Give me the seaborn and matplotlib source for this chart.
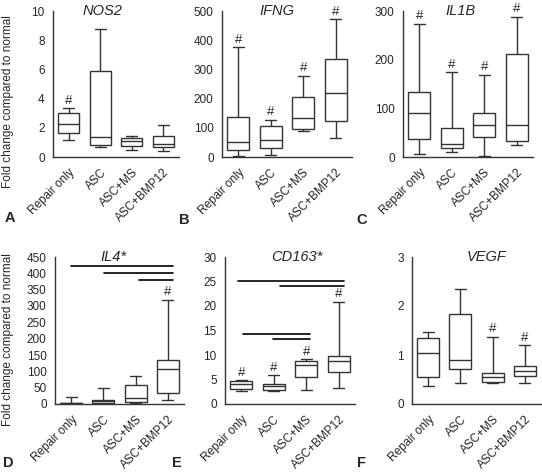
import matplotlib
matplotlib.use("Agg")
import matplotlib.pyplot as plt
import seaborn as sns
import pandas as pd

groups = ["Repair only", "ASC", "ASC+MS", "ASC+BMP12"]

# five-number summaries per group: [min, q1, median, q3, max]
nos2 = [[1.17, 1.63, 2.25, 2.99, 3.36], [0.69, 0.83, 1.40, 5.86, 8.76],
        [0.48, 0.74, 1.10, 1.33, 1.45], [0.44, 0.69, 0.87, 1.45, 2.18]]
ifng = [[3, 25, 51, 137, 377], [8, 31, 57, 106, 128],
        [88, 97, 133, 204, 279], [65, 122, 220, 336, 471]]
il1b = [[7, 37, 91, 134, 274], [10, 18, 27, 60, 174],
        [3, 42, 66, 91, 169], [25, 32, 66, 212, 288]]
il4 = [[0, 1, 2, 4, 20], [1, 4, 8, 13, 49],
       [2, 5, 19, 58, 86], [13, 34, 107, 136, 319]]
cd163 = [[2.6, 3.1, 4.1, 4.6, 4.8], [2.6, 2.9, 3.75, 4.1, 5.9],
         [2.9, 5.5, 8.0, 8.7, 9.1], [3.3, 6.5, 8.7, 9.7, 20.9]]
vegf = [[0.36, 0.55, 1.05, 1.35, 1.47], [0.43, 0.72, 0.90, 1.83, 2.34],
        [0.42, 0.45, 0.55, 0.64, 1.37], [0.42, 0.58, 0.67, 0.77, 1.20]]

titles = ["NOS2", "IFNG", "IL1B", "IL4*", "CD163*", "VEGF"]
letters = ["A", "B", "C", "D", "E", "F"]
hash_marks = [[1, 0, 0, 0], [1, 1, 1, 1], [1, 1, 1, 1],
              [0, 0, 0, 1], [1, 1, 1, 1], [0, 0, 1, 1]]
y_max = [10, 500, 300, 450, 30, 3]
y_step = [2, 100, 100, 50, 5, 1]
# significance bars: (start, end, height)
il4_bars = [(-0.01, 3.15, 422), (1.02, 3.15, 401), (2.1, 3.15, 380)]
cd163_bars = [(-0.1, 3.16, 25.1), (1.19, 3.16, 24.1), (0.045, 2.12, 14.2), (0.97, 2.12, 13.2)]

datasets = [nos2, ifng, il1b, il4, cd163, vegf]
bars = [[], [], [], il4_bars, cd163_bars, []]

sns.set_style("white")
plt.rcParams['font.family'] = ['Liberation Sans', 'DejaVu Sans']

W, H = 542, 472
fig = plt.figure(figsize=(W / 100, H / 100), dpi=100)

# axes boxes in pixels: left, right, top, bottom
boxes = [(53, 179, 11, 157), (222, 352, 11, 157), (403, 533, 11, 157),
         (55, 184, 257, 404), (225, 355, 257, 404), (412, 541, 257, 404)]
title_x = [0.39, 0.42, 0.44, 0.45, 0.55, 0.58]
letter_pos = [(5, 218), (179, 220), (356, 220), (3, 463), (172, 463), (357, 463)]
dark = "#333333"
fs = 8.5

for i in range(6):
    l, r, t, b = boxes[i]
    ax = fig.add_axes([l / W, 1 - b / H, (r - l) / W, (b - t) / H])
    rows = []
    for g, vals in zip(groups, datasets[i]):
        for v in vals:
            rows.append({"group": g, "value": v})
    df = pd.DataFrame(rows)
    sns.boxplot(data=df, x="group", y="value", order=groups, whis=(0, 100),
                color="white", linecolor=dark, linewidth=1.0, width=0.68,
                showfliers=False, ax=ax)
    ax.set_xlim(-0.5, 3.5)
    ax.set_ylim(0, y_max[i])
    yt = [k * y_step[i] for k in range(int(round(y_max[i] / y_step[i])) + 1)]
    ax.set_yticks(yt)
    ax.set_yticklabels([str(v) for v in yt], fontsize=fs)
    ax.set_xticks(range(4))
    ax.set_xticklabels(groups, fontsize=fs, rotation=45, ha="right",
                       rotation_mode="anchor")
    ax.set_xticks([-0.5, 0.5, 1.5, 2.5, 3.5], minor=True)
    ax.tick_params(axis="x", which="major", length=0, pad=7)
    ax.tick_params(axis="x", which="minor", length=4, width=1.0, color=dark, direction="out")
    ax.tick_params(axis="y", length=4, width=1.0, color=dark, direction="out", pad=2)
    ax.set_xlabel("")
    ax.set_ylabel("")
    for s in ["top", "right"]:
        ax.spines[s].set_visible(False)
    for s in ["left", "bottom"]:
        ax.spines[s].set_color(dark)
        ax.spines[s].set_linewidth(1.0)
    ax.text(title_x[i], 1.0, titles[i], transform=ax.transAxes, ha="center",
            va="center", fontsize=10.5, style="italic")
    for j, flag in enumerate(hash_marks[i]):
        if flag:
            ax.annotate("#", (j, datasets[i][j][4]), xytext=(0, 1),
                        textcoords="offset points", ha="center", va="bottom",
                        fontsize=9.5)
    for (x0, x1, yv) in bars[i]:
        ax.plot([x0, x1], [yv, yv], color="black", lw=1.2, clip_on=False)
    if i == 0:
        ax.set_ylabel("Fold change compared to normal", fontsize=fs)
        ax.yaxis.set_label_coords((14 - l) / (r - l), (b - 102) / (b - t))
    if i == 3:
        ax.set_ylabel("Fold change compared to normal", fontsize=fs)
        ax.yaxis.set_label_coords((14 - l) / (r - l), (b - 340) / (b - t))
    lx, ly = letter_pos[i]
    fig.text(lx / W, 1 - ly / H, letters[i], fontsize=10.5, fontweight="bold",
             ha="left", va="center")

fig.savefig("out.png", dpi=100)
